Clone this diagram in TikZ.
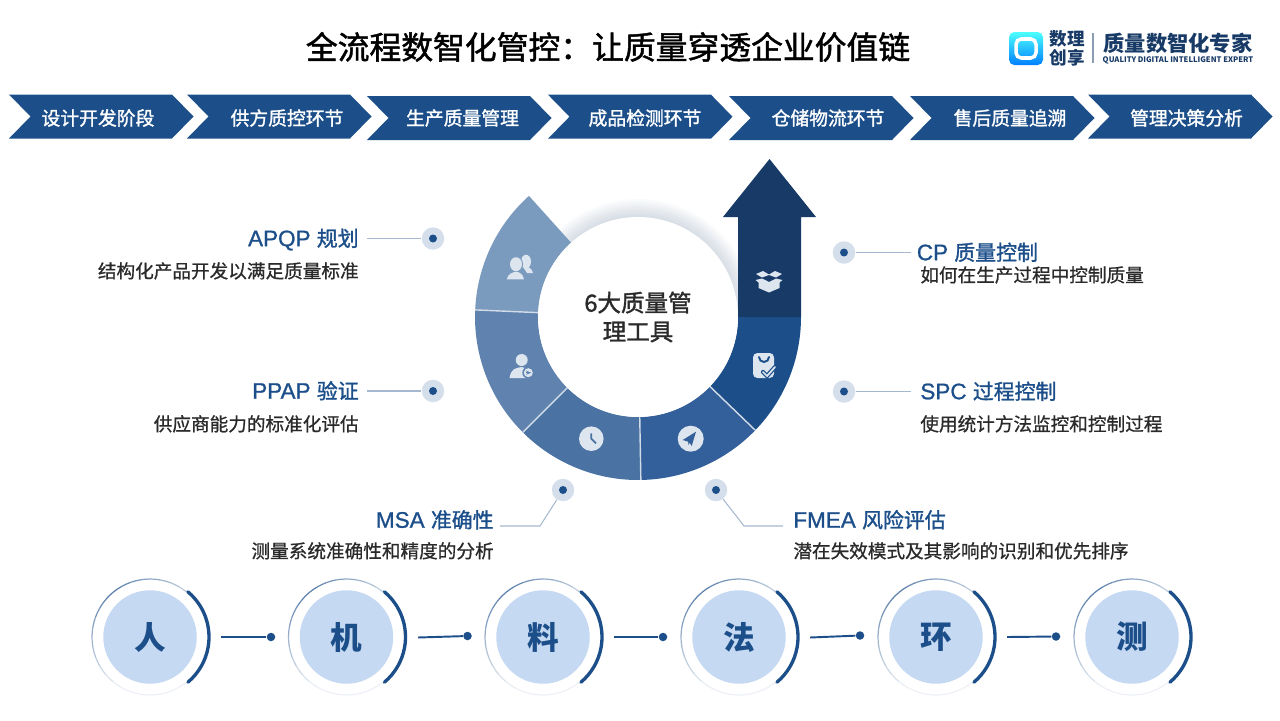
\documentclass[tikz,border=0pt]{standalone}
\usepackage{fontspec}
\setmainfont{Noto Sans CJK SC}
\newfontfamily\medfont[FakeBold=0.8]{Noto Sans CJK SC}
\newfontfamily\headfont[FakeBold=1.4]{Noto Sans CJK SC}
\newfontfamily\latfont[FakeBold=1]{Liberation Sans}
\usetikzlibrary{positioning, calc, arrows.meta}
\definecolor{primary}{HTML}{1C4F8A}
\definecolor{deep}{HTML}{173A66}
\definecolor{pale}{HTML}{C6D9F2}
\definecolor{halo}{HTML}{D5DFEB}
\definecolor{ink}{HTML}{2A2A2A}
\definecolor{iconfill}{HTML}{DDE5EF}
\definecolor{segb}{HTML}{33609A}
\definecolor{segc}{HTML}{4A73A3}
\definecolor{segd}{HTML}{5F83AE}
\definecolor{sege}{HTML}{7A9ABE}
\tikzset{
  stagelabel/.style={font=\fontsize{10.7}{12}\headfont, text=white, inner sep=0pt},
  toolname/.style={font=\fontsize{11.9}{13}\headfont, text=primary, inner sep=0pt, text height=10.2pt, text depth=1.4pt},
  tooltext/.style={font=\fontsize{10.6}{12}\medfont, text=ink, inner sep=0pt, text height=9.2pt, text depth=1.3pt},
  halodot/.style={circle, fill=halo, minimum size=0.45cm, inner sep=0pt},
  leader/.style={draw=primary!40, line width=0.6pt},
  pin/.style={circle, fill=primary, minimum size=0.17cm, inner sep=0pt},
  link/.style={draw=primary, line width=1.1pt},
  discbox/.style={circle, fill=pale, minimum size=1.87cm, inner sep=0pt, font=\fontsize{18}{20}\selectfont\bfseries, text=primary},
  iconshape/.style={fill=iconfill, draw=none},
}
\newcommand{\dotmark}[2]{\node[halodot] (#1) at (#2) {}; \fill[primary] (#1) circle[radius=4];}
\newcommand{\ringseg}[3]{\fill[#3] ($(hubc)+(#1:163)$) arc[start angle=#1, end angle=#2, radius=163] -- ($(hubc)+(#2:100)$) arc[start angle=#2, end angle=#1, radius=100] -- cycle;}
\newcommand{\toolhead}[2]{{\fontsize{12.8}{13}\latfont #1 }#2}
\begin{document}
\begin{tikzpicture}[x=0.02cm, y=-0.02cm]
\useasboundingbox (0,0) rectangle (1280,720);
\coordinate (hubc) at (638,317);
% Title
\node[font=\fontsize{18.1}{20}\headfont, text=black, inner sep=0pt] (title) at (608,47) {全流程数智化管控：让质量穿透企业价值链};
% Logo
\shade[top color=cyan!70!white, bottom color=blue!50!cyan, rounded corners=3pt] (1009,32) rectangle (1043,65);
\draw[white, line width=2pt, rounded corners=3pt] (1016,39) rectangle (1036,58);
\node[font=\fontsize{10}{9.6}\selectfont\bfseries, text=deep, align=center, inner sep=0pt] (logoa) at (1067,48.5) {数理\\创享};
\draw[deep!50, line width=0.6pt] (1093,33) -- (1093,63);
\node[font=\fontsize{12.1}{14}\selectfont\bfseries, text=deep, inner sep=0pt] (logob) at (1178,43) {质量数智化专家};
\node[font=\fontsize{4.35}{6}\selectfont\bfseries, text=deep, inner sep=0pt] (logoc) at (1178,60) {QUALITY DIGITAL INTELLIGENT EXPERT};
% Stage chevrons
\foreach \xa/\ya/\xt/\txt [count=\i] in {9/94.5/98/设计开发阶段, 187/94.5/287/供方质控环节, 367/96/462.5/生产质量管理, 548/94.7/645/成品检测环节, 729/96/828/仓储物流环节, 910/96/1010/售后质量追溯, 1088/94.5/1186.5/管理决策分析}{
  \fill[primary] (\xa,\ya) -- ++(163,0) -- ++(21.5,22) -- ++(-21.5,22) -- ++(-163,0) -- ++(21.5,-22) -- cycle;
  \node[stagelabel] (stage\i) at (\xt,118) {\txt};
}
% Soft glow round the hub
\foreach \r in {101,103,...,117}{
  \fill[deep, opacity=0.018] (638,316) circle[radius=\r];
}
% Arrow
\fill[deep] (738,317) -- (738,217) -- (723,217) -- (769.5,159) -- (816,217) -- (801,217) -- (801,317) -- cycle;
% Ring
\ringseg{0}{44}{primary}
\ringseg{44}{89}{segb}
\ringseg{89}{135}{segc}
\ringseg{135}{182.5}{segd}
\ringseg{182.5}{228}{sege}
\foreach \a in {44,89,135,182.5}{
  \draw[white!80!primary, line width=0.8pt] ($(hubc)+(\a:100)$) -- ($(hubc)+(\a:163)$);
}
\node[circle, fill=white, minimum size=4cm, inner sep=0pt, align=center, text=ink, font=\fontsize{13.4}{16.4}\headfont] (hub) at (hubc) {6大质量管\\理工具};
% Icons
\begin{scope}[shift={(769,281)}]
  \fill[iconshape] (-13,-7) -- (-6,-10) -- (0,-6.5) -- (6,-10) -- (13,-7) -- (7,-3.5) -- (0,-6) -- (-7,-3.5) -- cycle;
  \fill[iconshape] (-13.5,-1) -- (-7,-2.5) -- (0,1) -- (7,-2.5) -- (13.5,-1) -- (10.5,1.5) -- (10.5,7) -- (0,11.5) -- (-10.5,7) -- (-10.5,1.5) -- cycle;
\end{scope}
\begin{scope}[shift={(764,366)}]
  \fill[iconshape, rounded corners=2.5pt] (-11,-13) rectangle (10,12);
  \draw[primary, line width=1.1pt, line cap=round] (-5,-9) arc[start angle=180, end angle=0, radius=5];
  \draw[primary, line width=2.4pt, line cap=round] (-1,6) -- (3,10) -- (11,1);
  \draw[iconfill, line width=1pt, line cap=round] (-1,6) -- (3,10) -- (11,1);
\end{scope}
\begin{scope}[shift={(690.7,438.7)}]
  \fill[iconshape] (0,0) circle[radius=13];
  \fill[segb] (-8,1.3) -- (5.3,-7) -- (1,7.3) -- (-1,4) -- (-2.3,6.3) -- (-2.5,3) -- cycle;
\end{scope}
\begin{scope}[shift={(591.3,438.7)}]
  \fill[iconshape] (0,0) circle[radius=12.3];
  \draw[segc, line width=1pt] (0,-5.3) -- (0,0) -- (4.7,4.7);
\end{scope}
\begin{scope}[shift={(521,366)}]
  \fill[iconshape] (0.7,-6) circle[radius=6];
  \fill[iconshape] (-11.5,12) .. controls (-10,3) and (-6,2) .. (0.5,1) .. controls (5,2) and (8,3) .. (9,12) -- cycle;
  \fill[segd] (7.3,6.7) circle[radius=6];
  \fill[iconshape] (7.3,6.7) circle[radius=4.5];
  \draw[segd, line width=0.8pt, -{Stealth[length=3pt]}] (4.5,6.7) -- (10.3,6.7);
\end{scope}
\begin{scope}[shift={(520,268)}]
  \fill[iconshape] (6,-6.3) ellipse[x radius=5, y radius=7];
  \fill[iconshape] (8,-1) .. controls (11,1) and (13,2) .. (13,5) -- (7,5) -- (3,-1) -- cycle;
  \fill[sege] (-4,-3.8) ellipse[x radius=7, y radius=8];
  \fill[iconshape] (-4,-3.8) ellipse[x radius=6, y radius=7];
  \fill[sege] (-14,12) .. controls (-13,6) and (-8,4) .. (-4,3) .. controls (0,4) and (5,6) .. (6,12) -- cycle;
  \fill[iconshape] (-13.3,11.3) .. controls (-12,6) and (-8,4.5) .. (-4,3.5) .. controls (0,4.5) and (3,6) .. (4,11.3) -- cycle;
\end{scope}
% Tool labels left
\node[toolname, anchor=east] (apqp) at (359,238.5) {\toolhead{APQP}{规划}};
\node[tooltext, anchor=east] (apqptext) at (359,271) {结构化产品开发以满足质量标准};
\dotmark{apqpdot}{433,238.5}
\draw[leader] ([xshift=4.5pt]apqp.east) -- (apqpdot);
\node[toolname, anchor=east] (ppap) at (359,391) {\toolhead{PPAP}{验证}};
\node[tooltext, anchor=east] (ppaptext) at (359,424) {供应商能力的标准化评估};
\dotmark{ppapdot}{433,391}
\draw[leader] ([xshift=4.5pt]ppap.east) -- (ppapdot);
% Tool labels right
\node[toolname, anchor=west] (cp) at (916.5,252.5) {\toolhead{CP}{质量控制}};
\node[tooltext, anchor=west] (cptext) at (920,275) {如何在生产过程中控制质量};
\dotmark{cpdot}{844,252.5}
\draw[leader] (cpdot) -- ([xshift=-3pt]cp.west);
\node[toolname, anchor=west] (spc) at (920,391.5) {\toolhead{SPC}{过程控制}};
\node[tooltext, anchor=west] (spctext) at (920,424) {使用统计方法监控和控制过程};
\dotmark{spcdot}{844,391.5}
\draw[leader] (spcdot) -- ([xshift=-5pt]spc.west);
% Tool labels below
\node[toolname, anchor=east] (msa) at (494,520) {\toolhead{MSA}{准确性}};
\node[tooltext, anchor=east] (msatext) at (494,551) {测量系统准确性和精度的分析};
\dotmark{msadot}{563,490}
\coordinate (msafoot) at (500,526);
\coordinate (msaelbow) at (540,526);
\draw[leader] (msafoot) -- (msaelbow) -- (msadot);
\node[toolname, anchor=west] (fmea) at (793,520) {\toolhead{FMEA}{风险评估}};
\node[tooltext, anchor=west] (fmeatext) at (793,551) {潜在失效模式及其影响的识别和优先排序};
\dotmark{fmeadot}{716,490}
\coordinate (fmeafoot) at (783,526);
\coordinate (fmeaelbow) at (744,526);
\draw[leader] (fmeadot) -- (fmeaelbow) -- (fmeafoot);
% Bottom discs
\foreach \cx/\txt [count=\i] in {150/人, 346.5/机, 543/料, 739/法, 936/环, 1132/测}{
  \node[discbox] (disc\i) at (\cx,637) {\txt};
  \foreach \a [evaluate=\a as \b using {\a+10}, evaluate=\a as \m using {max(8,75-abs(\a-225)*0.62)}] in {40,50,...,310}{
    \draw[draw=primary!\m!white, line width=0.7pt] ($(disc\i)+(\a:58)$) arc[start angle=\a, end angle=\b, radius=58];
  }
  \draw[primary, line width=1.9pt, line cap=round] ($(disc\i)+(-50:59)$) arc[start angle=-50, end angle=50, radius=59];
}
% Links
\foreach \xa/\xb/\ya/\yb [count=\i] in {221/271/637/637, 418/467.5/637.5/636, 614/663/637/637, 810/860/637.5/635.5, 1007/1056/637/636.5}{
  \node[pin] (pin\i) at (\xb,\yb) {};
  \coordinate (tail\i) at (\xa,\ya);
  \draw[link] (tail\i) -- (pin\i);
}
\end{tikzpicture}
\end{document}
